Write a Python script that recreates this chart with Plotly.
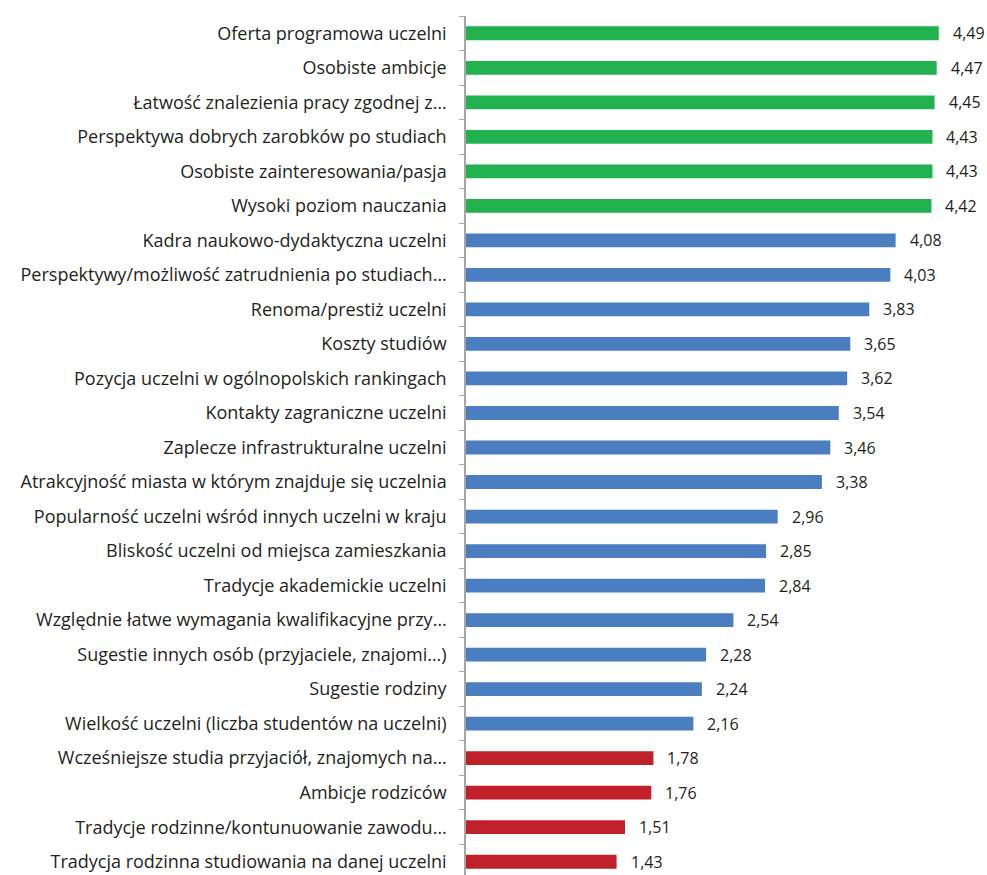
import plotly.graph_objects as go

# Czynniki wyboru uczelni — średnie oceny
categories = [
    "Oferta programowa uczelni",
    "Osobiste ambicje",
    "Łatwość znalezienia pracy zgodnej z…",
    "Perspektywa dobrych zarobków po studiach",
    "Osobiste zainteresowania/pasja",
    "Wysoki poziom nauczania",
    "Kadra naukowo-dydaktyczna uczelni",
    "Perspektywy/możliwość zatrudnienia po studiach…",
    "Renoma/prestiż uczelni",
    "Koszty studiów",
    "Pozycja uczelni w ogólnopolskich rankingach",
    "Kontakty zagraniczne uczelni",
    "Zaplecze infrastrukturalne uczelni",
    "Atrakcyjność miasta w którym znajduje się uczelnia",
    "Popularność uczelni wśród innych uczelni w kraju",
    "Bliskość uczelni od miejsca zamieszkania",
    "Tradycje akademickie uczelni",
    "Względnie łatwe wymagania kwalifikacyjne przy…",
    "Sugestie innych osób (przyjaciele, znajomi…)",
    "Sugestie rodziny",
    "Wielkość uczelni (liczba studentów na uczelni)",
    "Wcześniejsze studia przyjaciół, znajomych na…",
    "Ambicje rodziców",
    "Tradycje rodzinne/kontunuowanie zawodu…",
    "Tradycja rodzinna studiowania na danej uczelni",
]
values = [4.49, 4.47, 4.45, 4.43, 4.43, 4.42, 4.08, 4.03, 3.83, 3.65, 3.62,
          3.54, 3.46, 3.38, 2.96, 2.85, 2.84, 2.54, 2.28, 2.24, 2.16, 1.78,
          1.76, 1.51, 1.43]


def _bar_color(v):
    if v >= 4.4:
        return "#21B14F"  # zielony
    if v < 2:
        return "#C0202A"  # czerwony
    return "#4A7EC1"  # niebieski


fig = go.Figure(go.Bar(
    x=values,
    y=categories,
    orientation="h",
    marker={"color": [_bar_color(v) for v in values], "line": {"width": 0}},
    width=0.4,
    hoverinfo="x+y",
))

# etykiety wartości (przecinek dziesiętny)
for cat, v in zip(categories, values):
    fig.add_annotation(
        x=v, y=cat,
        text=f"{v:.2f}".replace(".", ","),
        xanchor="left", xshift=12,
        showarrow=False,
        font={"size": 16, "color": "#231F20"},
    )

fig.update_layout(
    width=987,
    height=879,
    margin={"l": 466, "r": 10, "t": 16, "b": 0},
    paper_bgcolor="white",
    plot_bgcolor="white",
    font={"family": "Open Sans, sans-serif", "size": 18, "color": "#231F20"},
    showlegend=False,
    xaxis={"visible": False, "range": [0, 4.853]},
    yaxis={
        "autorange": "reversed",
        "showline": True,
        "linecolor": "#A6A6A6",
        "linewidth": 1.5,
        "ticks": "outside",
        "tickson": "boundaries",
        "ticklen": 5,
        "tickcolor": "#A6A6A6",
        "showgrid": False,
        "ticklabelstandoff": 14,
    },
)

# bez marginesu strony, żeby wykres zajmował całe okno
fig.write_html(
    "out.html",
    config={"displayModeBar": False},
    post_script="document.body.style.margin='0';document.body.style.overflow='hidden';",
)
